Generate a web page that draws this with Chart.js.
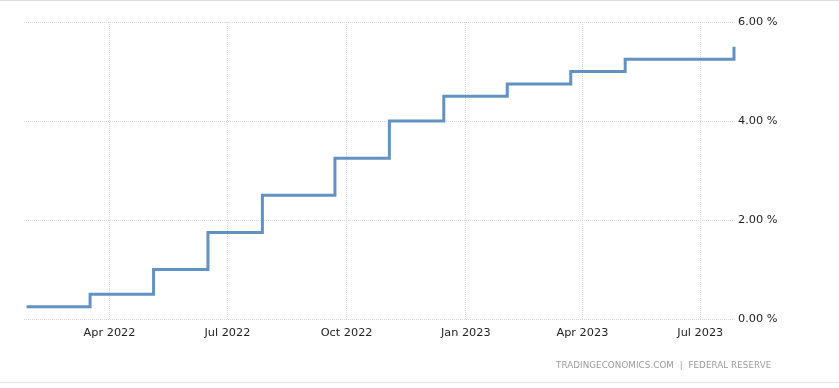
<!DOCTYPE html>
<html>
<head>
<meta charset="utf-8">
<script src="https://cdn.jsdelivr.net/npm/chart.js@4"></script>
<style>
  html, body { margin: 0; padding: 0; background: #fff; }
  #wrap { position: relative; width: 839px; height: 388px; overflow: hidden; }
  #topline { position: absolute; left: 0; top: 0; width: 839px; height: 1px; background: #dcdcdc; }
  #botline { position: absolute; left: 0; top: 382px; width: 839px; height: 1px; background: #e6e6e6; }
  #source { position: absolute; left: 556px; top: 360px; font-family: "DejaVu Sans", sans-serif; font-size: 8.7px; color: #9a9a9a; letter-spacing: 0.1px; white-space: pre; }
  canvas { position: absolute; left: 0; top: 0; }
</style>
</head>
<body>
<div id="wrap">
  <canvas id="c" width="839" height="388"></canvas>
  <div id="topline"></div>
  <div id="botline"></div>
  <div id="source">TRADINGECONOMICS.COM  |  FEDERAL RESERVE</div>
</div>
<script>
// Fed funds target rate (upper bound), change dates
const changeDates = ['2022-01-27','2022-03-17','2022-05-05','2022-06-16','2022-07-28','2022-09-22','2022-11-03','2022-12-15','2023-02-02','2023-03-23','2023-05-04','2023-07-27'];
const rateValues  = [0.25, 0.50, 1.00, 1.75, 2.50, 3.25, 4.00, 4.50, 4.75, 5.00, 5.25, 5.50];
const tickDates   = ['2022-04-01','2022-07-01','2022-10-01','2023-01-01','2023-04-01','2023-07-01'];
const tickLabels  = ['Apr 2022','Jul 2022','Oct 2022','Jan 2023','Apr 2023','Jul 2023'];
const yTicks      = [0, 2, 4, 6];
const xStart = '2022-01-25';
const xEnd   = '2023-07-27';

const ts = s => Date.parse(s + 'T00:00:00Z');
const points = changeDates.map((d, i) => ({ x: ts(d), y: rateValues[i] }));

const FONT = { family: '"DejaVu Sans", sans-serif', size: 11.3 };

new Chart(document.getElementById('c'), {
  type: 'line',
  data: {
    datasets: [{
      data: points,
      stepped: true,
      borderColor: '#6192c2',
      borderWidth: 3,
      pointRadius: 0,
      fill: false,
      clip: 6
    }]
  },
  options: {
    responsive: false,
    animation: false,
    layout: { padding: { left: 24, top: 22, right: 0, bottom: 0 } },
    plugins: { legend: { display: false }, tooltip: { enabled: false } },
    scales: {
      x: {
        type: 'linear',
        min: ts(xStart),
        max: ts(xEnd),
        afterBuildTicks: s => { s.ticks = tickDates.map(d => ({ value: ts(d) })); },
        afterFit: s => { s.height = 69; },
        ticks: {
          callback: (v, i) => tickLabels[i],
          color: '#222',
          font: FONT,
          padding: 7,
          maxRotation: 0,
          autoSkip: false
        },
        grid: { color: '#d6d6d6', lineWidth: 1, drawTicks: false },
        border: { display: false, dash: [1, 1] }
      },
      y: {
        position: 'right',
        min: 0,
        max: 6,
        afterBuildTicks: s => { s.ticks = yTicks.map(v => ({ value: v })); },
        afterFit: s => { s.width = 105; },
        ticks: {
          callback: v => v.toFixed(2) + ' %',
          color: '#222',
          font: FONT,
          padding: 4
        },
        grid: { color: '#d6d6d6', lineWidth: 1, drawTicks: false },
        border: { display: false, dash: [1, 1] }
      }
    }
  }
});
</script>
</body>
</html>
